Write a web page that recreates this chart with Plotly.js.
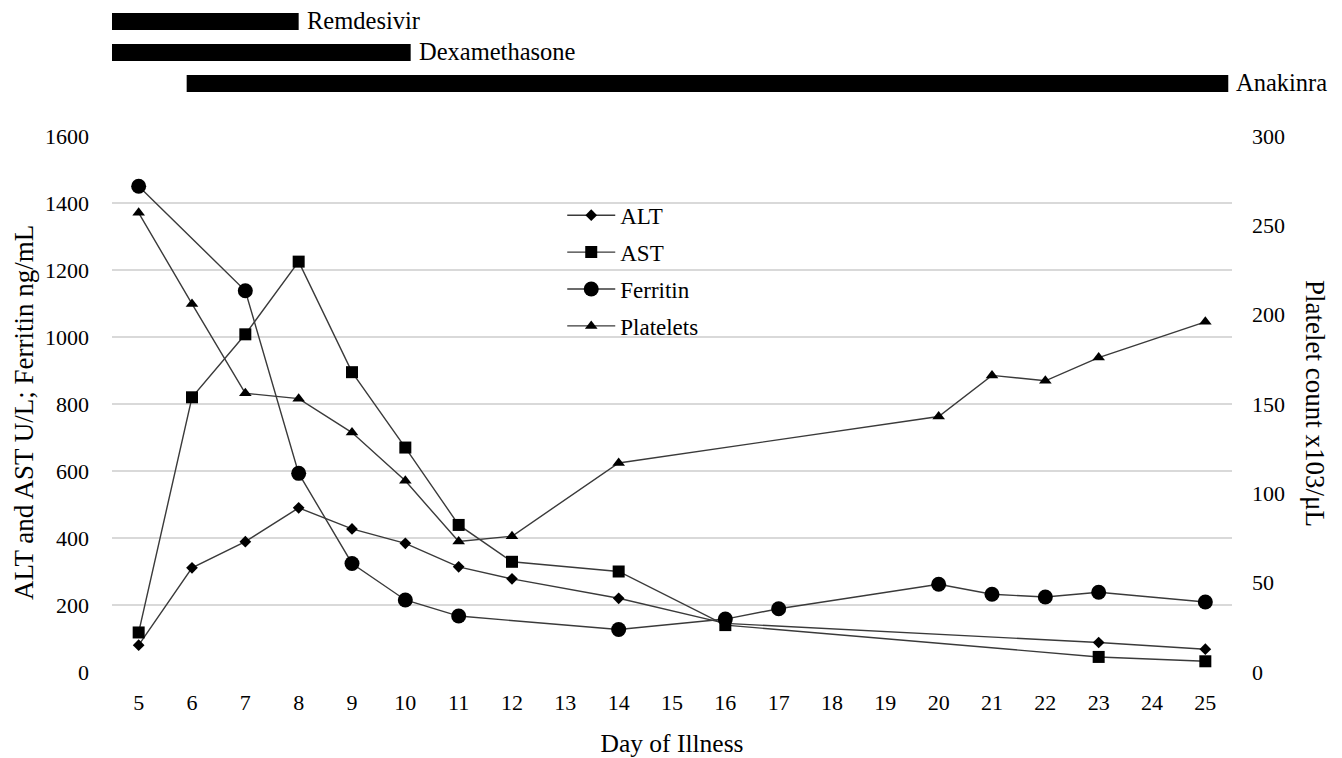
<!DOCTYPE html>
<html>
<head>
<meta charset="utf-8">
<script src="https://cdn.plot.ly/plotly-3.0.1.min.js"></script>
<style>html,body{margin:0;padding:0;background:#fff;}#chart{width:1342px;height:758px;}</style>
</head>
<body>
<div id="chart"></div>
<script>
// ---- data ----
var altDays = [5, 6, 7, 8, 9, 10, 11, 12, 14, 16, 23, 25];
var altValues = [80, 311, 389, 490, 427, 384, 314, 278, 220, 145, 88, 68];
var astDays = [5, 6, 7, 8, 9, 10, 11, 12, 14, 16, 23, 25];
var astValues = [118, 820, 1008, 1225, 895, 670, 439, 329, 300, 140, 45, 32];
var ferritinDays = [5, 7, 8, 9, 10, 11, 14, 16, 17, 20, 21, 22, 23, 25];
var ferritinValues = [1450, 1138, 593, 324, 215, 167, 127, 158, 189, 262, 232, 224, 238, 209];
var plateletDays = [5, 6, 7, 8, 9, 10, 11, 12, 14, 20, 21, 22, 23, 25];
var plateletValues = [257, 206, 156, 153, 134, 107, 73, 76, 117, 143, 166, 163, 176, 196];
var drugs = ["Remdesivir", "Dexamethasone", "Anakinra"];
var drugStart = [4.5, 4.5, 5.9];
var drugEnd = [8.0, 10.1, 25.43];
var dayTicks = [5, 6, 7, 8, 9, 10, 11, 12, 13, 14, 15, 16, 17, 18, 19, 20, 21, 22, 23, 24, 25];

var FONT = "Liberation Serif";
var lineStyle = {color: "#3a3a3a", width: 1.4};

function series(name, xs, ys, symbol, size, yaxis) {
  return {
    type: "scatter", mode: "lines+markers", name: name, x: xs, y: ys,
    yaxis: yaxis, legendgroup: name,
    line: lineStyle,
    marker: {symbol: symbol, size: size, color: "#000"},
    cliponaxis: false
  };
}

var traces = [
  series("ALT", altDays, altValues, "diamond", 9, "y"),
  series("AST", astDays, astValues, "square", 12, "y"),
  series("Ferritin", ferritinDays, ferritinValues, "circle", 15, "y"),
  series("Platelets", plateletDays, plateletValues, "triangle-up", 11, "y2"),
  {
    type: "bar", orientation: "h", y: drugs,
    x: drugEnd.map(function (e, i) { return e - drugStart[i]; }),
    base: drugStart, xaxis: "x", yaxis: "y3", width: 0.55,
    marker: {color: "#000", line: {width: 0}},
    showlegend: false, hoverinfo: "skip"
  }
];

var drugLabels = drugs.map(function (d, i) {
  return {text: d, xref: "x", yref: "y3", x: drugEnd[i], y: i,
          xanchor: "left", yanchor: "middle", xshift: 6, yshift: 1, showarrow: false,
          font: {family: FONT, size: 24.5, color: "#000"}};
});

var layout = {
  width: 1342, height: 758,
  margin: {l: 112, r: 110, t: 5, b: 86},
  paper_bgcolor: "#fff", plot_bgcolor: "#fff",
  font: {family: FONT, size: 22, color: "#000"},
  showlegend: true,
  legend: {
    x: 0.402, y: 0.717, xanchor: "left", yanchor: "top",
    bgcolor: "rgba(0,0,0,0)", font: {family: FONT, size: 23, color: "#000"},
    traceorder: "grouped", tracegroupgap: 4, itemwidth: 48
  },
  xaxis: {
    range: [4.5, 25.5], tickmode: "array", tickvals: dayTicks,
    showgrid: false, zeroline: false, showline: false, ticks: "",
    ticklabelstandoff: 15,
    tickfont: {family: FONT, size: 22},
    title: {text: "Day of Illness", font: {family: FONT, size: 25.5}, standoff: 22}
  },
  yaxis: {
    domain: [0, 0.8036], range: [0, 1600], dtick: 200,
    showgrid: true, gridcolor: "#d9d9d9", gridwidth: 1.5,
    zeroline: false, showline: false, ticks: "",
    ticklabelstandoff: 22,
    tickfont: {family: FONT, size: 22}
  },
  yaxis2: {
    overlaying: "y", side: "right", range: [0, 300], dtick: 50,
    showgrid: false, zeroline: false, showline: false, ticks: "",
    ticklabelstandoff: 19,
    tickfont: {family: FONT, size: 22}
  },
  yaxis3: {
    domain: [0.859, 0.9985], type: "category", range: [2.5, -0.5],
    visible: false, fixedrange: true
  },
  annotations: drugLabels.concat([
    {text: "ALT and AST U/L; Ferritin ng/mL", xref: "paper", yref: "paper",
     x: -0.079, y: 0.389, xanchor: "center", yanchor: "middle", textangle: -90,
     showarrow: false, font: {family: FONT, size: 27, color: "#000"}},
    {text: "Platelet count x103/\u03bcL", xref: "paper", yref: "paper",
     x: 1.074, y: 0.402, xanchor: "center", yanchor: "middle", textangle: 90,
     showarrow: false, font: {family: FONT, size: 27, color: "#000"}}
  ])
};

Plotly.newPlot("chart", traces, layout, {staticPlot: true, displayModeBar: false});
</script>
</body>
</html>
